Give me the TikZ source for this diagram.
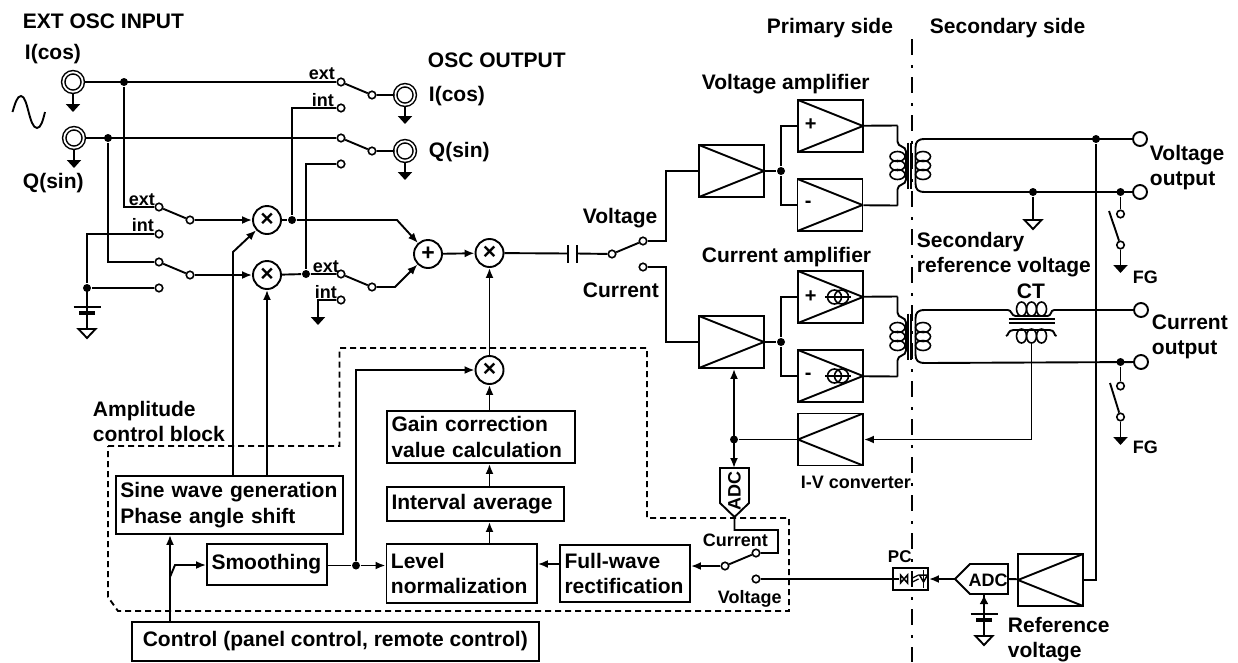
\documentclass[tikz,border=0pt]{standalone}
\usepackage{fontspec}
\setmainfont{Liberation Sans}
\usetikzlibrary{positioning,arrows.meta,calc}

\begin{document}
\begin{tikzpicture}[
  x=1pt, y=-1pt, line width=1.9pt,
  txt/.style={font=\fontsize{21}{25}\selectfont\bfseries, anchor=west, align=left, inner sep=0pt, yshift=-1.5pt},
  smalltxt/.style={font=\fontsize{18}{22}\selectfont\bfseries, anchor=west, align=left, inner sep=0pt, yshift=-1.5pt},
  blk/.style={draw, font=\fontsize{21}{25.5}\selectfont\bfseries, align=left, inner xsep=4.5pt, inner ysep=0pt},
  ampr/.style={draw, minimum width=65pt, minimum height=52pt, inner sep=0pt, path picture={
    \draw (path picture bounding box.north west) -- (path picture bounding box.east) -- (path picture bounding box.south west);}},
  ampl/.style={draw, minimum width=65pt, minimum height=52pt, inner sep=0pt, path picture={
    \draw (path picture bounding box.north east) -- (path picture bounding box.west) -- (path picture bounding box.south east);}},
  contact/.style={circle, draw, fill=white, inner sep=0pt, minimum size=7.5pt, line width=1.6pt},
  term/.style={circle, draw, fill=white, inner sep=0pt, minimum size=14pt},
  joint/.style={circle, fill, inner sep=0pt, minimum size=8pt},
  bnc/.style={circle, draw, fill=white, inner sep=0pt, minimum size=19.5pt, double=white, double distance=1.8pt, line width=1.5pt},
  mix/.style={circle, draw, inner sep=0pt, minimum size=28pt, font=\fontsize{23}{23}\selectfont\bfseries},
  arrow/.style={-{Latex[length=10pt,width=8pt]}},
  arrowboth/.style={{Latex[length=10pt,width=8pt]}-{Latex[length=10pt,width=8pt]}},
  gndarrow/.style={-{Triangle[length=8pt,width=14pt]}},
  earth/.pic={
    \draw (-8.5,0) -- (8.5,0) -- (0,9) -- cycle;
  },
  batt/.pic={
    \coordinate (-top) at (0,0);
    \draw (-13.5,19) -- (13.5,19);
    \draw[line width=4.5pt] (-8,25) -- (8,25);
    \draw (0,0) -- (0,41);
    \draw (-8.5,41) -- (8.5,41) -- (0,50) -- cycle;
  },
  xfmr/.pic={
    \draw (-12.5,-40) coordinate (-pt) -- (-12.5,-24) .. controls (-12.5,-18) and (-4,-20) .. (-4,-14)
      -- (-4,14) .. controls (-4,20) and (-12.5,18) .. (-12.5,24) -- (-12.5,40) coordinate (-pb);
    \draw (15,-26.5) coordinate (-st) .. controls (8,-26.5) and (5.5,-24) .. (5.5,-18)
      -- (5.5,18) .. controls (5.5,24) and (8,26.5) .. (15,26.5) coordinate (-sb);
    \foreach \yy in {-9,0,9} {
      \draw[line width=1.6pt] (-12.5,\yy) ellipse [x radius=7.5pt, y radius=5pt];
      \draw[line width=1.6pt] (13,\yy) ellipse [x radius=7.5pt, y radius=5pt];
    }
    \draw (-2.3,-23) -- (-2.3,23);
    \draw (1,-23) -- (1,23);
  },
  ctcore/.pic={
    \draw (-23.5,-11) coordinate (-l) .. controls (-20,-11) and (-20,-5) .. (-16,-5) -- (16,-5)
      .. controls (20,-5) and (19,-11) .. (22.5,-11) coordinate (-r);
    \draw (-25.5,15) .. controls (-23,15) and (-24,9) .. (-18,9) -- (18,9) .. controls (24,9) and (22,15) .. (25,15);
    \foreach \xx in {-10,0,10} {
      \draw[line width=1.6pt] (\xx,-12) ellipse [x radius=5pt, y radius=7pt];
      \draw[line width=1.6pt] (\xx,15) ellipse [x radius=5pt, y radius=7pt];
    }
    \draw (-23,-2) -- (23,-2);
    \draw (-23,2) -- (23,2);
    \coordinate (-o) at (0,22);
  },
  isrc/.pic={
    \draw (-13,0) -- (13,0);
    \draw[line width=1.6pt] (-3.5,0) circle [radius=7pt];
    \draw[line width=1.6pt] (3.5,0) circle [radius=7pt];
  },
  opto/.pic={
    \draw (-17.5,0) -- (-12,0);
    \draw[line width=1.5pt] (-10,-4) -- (-10,4) -- (-3,-4) -- (-3,4) -- cycle;
    \draw[line width=1.3pt] (2,-1) -- (8,-4);
    \draw[line width=1.3pt] (2,3) -- (8,0);
    \draw (13,-9) -- (13,9);
    \draw[line width=1.5pt] (13,3) -- (9,-4) -- (17,-4) -- cycle;
  },
]
\useasboundingbox (0,0) rectangle (1238,662);

% --- Isolation line and amplitude control block ---
\draw[dash pattern=on 16pt off 10pt on 2.5pt off 9.5pt] (912,39) -- (912,662);
\draw[dash pattern=on 6pt off 4pt] (108,446) -- (339.5,446) -- (339.5,348) -- (647,348) -- (647,518)
  -- (789,518) -- (789,611) -- (118,611) -- (108,597) -- cycle;

% --- Oscillator inputs and outputs ---
\node[txt] (extosc) at (22,20) {EXT OSC INPUT};
\node[txt] (icoslab) at (24,53) {I(cos)};
\node[txt] (qsinlab) at (22,182) {Q(sin)};
\node[txt] (oscout) at (427,59) {OSC OUTPUT};
\node[txt] (icosout) at (428,95) {I(cos)};
\node[txt] (qsinout) at (428,151) {Q(sin)};
\draw (12.5,112) .. controls (15,104) and (17,96) .. (21,96) .. controls (28,96) and (29,128) .. (37,128)
  .. controls (41,128) and (43,120) .. (45,112);

\node[bnc] (iin) at (73,82) {};
\node[bnc] (qin) at (74,138) {};
\node[bnc] (oi) at (405,95) {};
\node[bnc] (oq) at (405,151) {};
\coordinate (igd) at (73,112);
\coordinate (qgd) at (74,168);
\coordinate (oigd) at (405,124);
\coordinate (oqgd) at (405,180);
\draw[gndarrow] (iin) -- (igd);
\draw[gndarrow] (qin) -- (qgd);
\draw[gndarrow] (oi) -- (oigd);
\draw[gndarrow] (oq) -- (oqgd);

\node[joint] (diin) at (124,82) {};
\node[joint] (dqin) at (108,138) {};
\node[joint] (dgnd) at (87,288) {};
\node[joint] (dmi) at (292,220) {};
\node[joint] (dmq) at (306,274) {};

% --- Switches ---
\node[contact] (cie) at (341,82) {};
\node[contact] (cii) at (341,108) {};
\node[contact] (cic) at (372,95) {};
\node[contact] (cqe) at (341,138) {};
\node[contact] (cqi) at (341,164) {};
\node[contact] (cqc) at (372,151) {};
\node[contact] (sie) at (159,207) {};
\node[contact] (sii) at (159,234) {};
\node[contact] (sic) at (190,220) {};
\node[contact] (sqe) at (159,262) {};
\node[contact] (sqi) at (159,288) {};
\node[contact] (sqc) at (190,275) {};
\node[contact] (tie) at (341,274) {};
\node[contact] (tii) at (341,300) {};
\node[contact] (tic) at (372,287) {};

\node[smalltxt] (extc) at (308,72) {ext};
\node[smalltxt] (intc) at (311,99) {int};
\node[smalltxt] (exts) at (128,198) {ext};
\node[smalltxt] (ints) at (131,224) {int};
\node[smalltxt] (extt) at (312,265) {ext};
\node[smalltxt] (intt) at (314,291) {int};

% --- Mixers ---
\node[mix] (mixi) at (267,220) {×};
\node[mix] (mixq) at (267,275) {×};
\node[mix] (add) at (428,254) {+};
\node[mix] (mixo) at (489.5,253) {×};
\node[mix] (mixa) at (489.5,370) {×};

\draw (iin) -- (cie);
\draw (qin) -- (cqe);
\draw (cie) -- (cic) -- (oi);
\draw (cqe) -- (cqc) -- (oq);
\draw (diin) |- (sie);
\draw (dqin) |- (sqe);
\draw (sie) -- (sic);
\draw (sqe) -- (sqc);
\draw[arrow] (sic) -- (mixi);
\draw[arrow] (sqc) -- (mixq);
\draw (sii) -| (dgnd);
\draw (sqi) -- (dgnd);
\pic (gbat) at (87,288) {batt};
\draw (cii) -| (dmi);
\draw (cqi) -| (dmq);
\draw (mixi) -- (dmi);
\draw (mixq) -- (dmq) -- (tie) -- (tic);
\coordinate (bendi) at (397,220);
\coordinate (bendq) at (395,287);
\draw[arrow] (dmi) -- (bendi) -- (add);
\draw[arrow] (tic) -- (bendq) -- (add);
\coordinate (tgd) at (318,325);
\draw[gndarrow] (tii) -| (tgd);
\draw[arrow] (add) -- (mixo);
\draw[arrow] (mixa) -- (mixo);

% --- Amplitude control ---
\node[txt] (amplab) at (92,420) {Amplitude\\control block};
\node[blk, text width=218pt, minimum height=58pt] (sine) at (229.3,505) {Sine wave generation\\Phase angle shift};
\node[blk, text width=111pt, minimum height=41pt] (smooth) at (267,564.5) {Smoothing};
\node[blk, text width=141.5pt, minimum height=59pt] (level) at (461.7,573.5) {Level\\normalization};
\node[blk, text width=121pt, minimum height=57pt] (full) at (625,573.5) {Full-wave\\rectification};
\node[blk, text width=168pt, minimum height=34pt] (interval) at (475.5,504) {Interval average};
\node[blk, text width=179pt, minimum height=52pt] (gain) at (481,437) {Gain correction\\value calculation};
\node[blk, align=center, minimum width=406.5pt, minimum height=39pt] (ctrl) at (335.3,641.5) {Control (panel control, remote control)};

\coordinate (sinei) at (233,476);
\coordinate (sineq) at (267,476);
\coordinate (bends) at (233,252);
\draw[arrow] (sinei) -- (bends) -- (mixi);
\draw[arrow] (sineq) -- (mixq);
\coordinate (ctrlup) at (170,622);
\coordinate (bendc) at (170,577);
\coordinate (bendd) at (175,565);
\draw[arrow] (ctrlup) -- (ctrlup |- sine.south);
\draw[arrow] (bendc) -- (bendd) -- (smooth.west |- bendd);
\node[joint] (dsm) at (356,565.5) {};
\draw (smooth.east |- dsm) -- (dsm);
\draw[arrow] (dsm) -- (level.west |- dsm);
\draw[arrow] (dsm) |- (mixa);
\draw[arrow] (level.north -| mixa) -- (interval.south -| mixa);
\draw[arrow] (interval.north -| mixa) -- (gain.south -| mixa);
\draw[arrow] (gain.north -| mixa) -- (mixa);
\draw[arrow] (full.west |- 0,564) -- (level.east |- 0,564);

% --- Output switch and preamplifiers ---
\coordinate (capl) at (567.7,253.5);
\coordinate (capr) at (577,253.5);
\draw (mixo) -- (capl);
\draw (567.7,245) -- (567.7,263);
\draw (577,245) -- (577,263);
\node[contact] (swc) at (612,254) {};
\node[contact] (swv) at (643,241) {};
\node[contact] (swi) at (643,267) {};
\draw (capr) -- (swc) -- (swv);
\node[txt] (voltlab) at (582,217) {Voltage};
\node[txt] (currlab) at (582,289) {Current};

\node[ampr] (pv) at (731.5,171) {};
\node[ampr] (pi) at (731.5,342) {};
\node[ampr] (avp) at (830.5,126) {};
\node[ampr] (avm) at (830,205) {};
\node[ampr] (aip) at (830.5,297) {};
\node[ampr] (aim) at (830.5,376) {};
\node[ampl] (ivc) at (830.5,439.5) {};
\node[ampl] (refamp) at (1050.5,580) {};
\node[joint] (dv) at (781,171) {};
\node[joint] (di) at (781,342) {};
\node[joint] (dvi) at (734,439.5) {};

\coordinate (turnv) at (666,171);
\coordinate (turni) at (666,342);
\draw (swv) -| (turnv) -- (pv);
\draw (swi) -| (turni) -- (pi);
\draw (pv) -- (dv);
\draw (pi) -- (di);
\draw (dv) |- (avp);
\draw (dv) |- (avm);
\draw (di) |- (aip);
\draw (di) |- (aim);

\node[txt] (vamplab) at (701,83) {Voltage amplifier};
\node[txt] (camplab) at (701,256) {Current amplifier};
\node[txt, font=\fontsize{20}{20}\selectfont\bfseries, yshift=1.5pt] (vp) at (804,125) {+};
\node[txt, font=\fontsize{20}{20}\selectfont\bfseries, yshift=1.5pt] (vm) at (804,204) {-};
\node[txt, font=\fontsize{20}{20}\selectfont\bfseries, yshift=1.5pt] (ip) at (804,297) {+};
\node[txt, font=\fontsize{20}{20}\selectfont\bfseries, yshift=1.5pt] (im) at (804,376) {-};
\pic at (838,297) {isrc};
\pic at (838,376) {isrc};

% --- Transformers, CT and outputs ---
\pic (vt) at (910,165.5) {xfmr};
\pic (it) at (910,336.5) {xfmr};
\pic (ct) at (1031.5,321) {ctcore};
\draw (avp) -- (vt-pt);
\draw (avm) -- (vt-pb);
\draw (aip) -- (it-pt);
\draw (aim) -- (it-pb);

\node[txt] (primlab) at (766,27) {Primary side};
\node[txt] (seclab) at (929,27) {Secondary side};
\node[term] (ovu) at (1140,139) {};
\node[term] (ovl) at (1140,192) {};
\node[term] (oiu) at (1141,310) {};
\node[term] (oil) at (1141,362) {};
\node[joint] (dvo) at (1096,139) {};
\node[joint] (dgv) at (1033,192) {};
\node[joint] (dfv) at (1120.5,192) {};
\node[joint] (dfc) at (1120.5,362) {};
\draw (vt-st) -- (ovu);
\draw (vt-sb) -- (ovl);
\draw (it-st) -- (ct-l);
\draw (ct-r) -- (oiu);
\draw (it-sb) -- (oil);
\draw (dvo) |- (refamp);
\coordinate (egv) at (1033,220);
\draw (dgv) -- (egv);
\pic at (egv) {earth};

\node[contact] (fvt) at (1120.5,214) {};
\node[contact] (fvb) at (1120.5,245) {};
\node[contact] (fct) at (1120.5,386) {};
\node[contact] (fcb) at (1120.5,417) {};
\coordinate (bladev) at (1109,211);
\coordinate (bladec) at (1110,383);
\coordinate (fvg) at (1120.5,273);
\coordinate (fcg) at (1120.5,445);
\draw (dfv) -- (fvt);
\draw (dfc) -- (fct);
\draw (bladev) -- (fvb);
\draw (bladec) -- (fcb);
\draw[gndarrow] (fvb) -- (fvg);
\draw[gndarrow] (fcb) -- (fcg);
\node[smalltxt] (fgv) at (1132,276) {FG};
\node[smalltxt] (fgc) at (1132,446) {FG};
\node[txt] (voutlab) at (1149,166) {Voltage\\output};
\node[txt] (coutlab) at (1151,335) {Current\\output};
\node[txt] (reflab) at (916,253) {Secondary\\reference voltage};
\node[txt] (ctlab) at (1016,290) {CT};

% --- Current feedback and ADCs ---
\draw[arrow] (ct-o) |- (ivc);
\draw (ivc) -- (dvi);
\coordinate (adcitop) at (734,468);
\coordinate (adcit) at (734.5,517);
\coordinate (rsa) at (734.5,530);
\coordinate (rsb) at (778,530);
\coordinate (rsc) at (778,553);
\draw[arrowboth] (pi.south -| dvi) -- (adcitop);
\draw (720,468) -- (749,468) -- (749,503) -- (adcit) -- (720,503) -- cycle;
\node[smalltxt, anchor=center, rotate=90] (adcilab) at (734.5,489.5) {ADC};
\node[smalltxt] (ivlab) at (800,481) {I-V converter};
\node[contact] (raci) at (756,553) {};
\node[contact] (racv) at (756,579) {};
\node[contact] (racc) at (725,566) {};
\draw (adcit) -- (rsa) -- (rsb) -- (rsc) -- (raci) -- (racc);
\draw[arrow] (racc) -- (full.east |- racc);
\node[smalltxt] (swcur) at (702,539) {Current};
\node[smalltxt] (swvol) at (717,597) {Voltage};

\node[draw, minimum width=35pt, minimum height=22pt, inner sep=0pt] (pcb) at (910.5,579) {};
\pic at (910.5,579) {opto};
\node[smalltxt, font=\fontsize{17}{17}\selectfont\bfseries] (pclab) at (887,555) {PC};
\draw (racv) -- (pcb);
\coordinate (adctip) at (955,579);
\coordinate (adcend) at (1008,579);
\draw (adctip) -- (970,564) -- (1008,564) -- (1008,594) -- (970,594) -- cycle;
\node[smalltxt, anchor=center] (adclab) at (988,579) {ADC};
\draw[arrow] (adctip) -- (pcb);
\draw (adcend) -- (refamp);
\pic (rbat) at (984,595) {batt};
\draw[-{Latex[length=9pt,width=9pt]}] (984,612) -- (984,595);
\node[txt] (refv) at (1007,638) {Reference\\voltage};

\end{tikzpicture}
\end{document}
